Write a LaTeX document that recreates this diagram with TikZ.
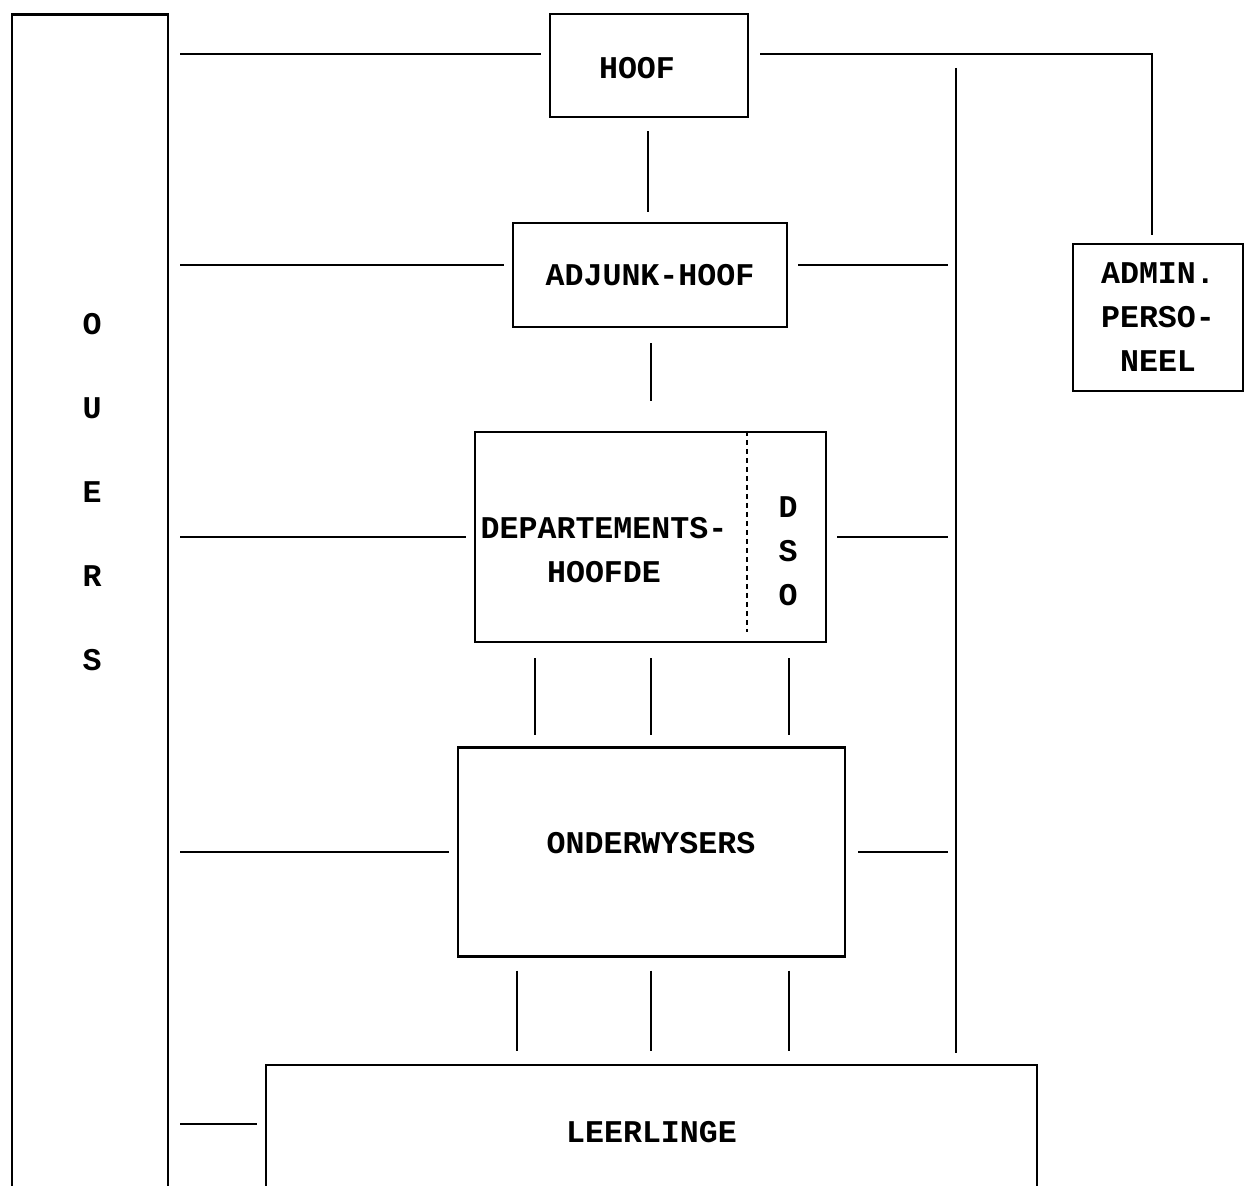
\documentclass[tikz,border=0pt]{standalone}
\usepackage{fontspec}
\setmonofont{Liberation Mono}
\usetikzlibrary{positioning}

\begin{document}
\begin{tikzpicture}[x=0.02cm,y=-0.02cm,font=\ttfamily\bfseries\fontsize{18}{25}\selectfont]
\tikzstyle{box}=[draw=black,line width=1.2pt,inner sep=0pt,align=center]
\tikzstyle{link}=[-,line width=1.2pt,shorten <=0.22cm,shorten >=0.16cm]
\tikzstyle{tall}=[align=center,font=\ttfamily\bfseries\fontsize{18}{47.8}\selectfont]

\useasboundingbox (0,0) rectangle (1245,1186);

% boxes
\node[box, line width=1.6pt, minimum width=3.12cm, minimum height=23.72cm] (ouers) at (90,607) {};
\node[box, minimum width=3.96cm, minimum height=2.06cm] (hoof) at (649,65.5) {};
\node[box, minimum width=5.48cm, minimum height=2.08cm] (adj) at (650,275) {ADJUNK-HOOF};
\node[box, minimum width=3.40cm, minimum height=2.94cm] (admin) at (1158,317.5) {ADMIN.\\PERSO-\\NEEL};
\node[box, minimum width=7.02cm, minimum height=4.20cm] (dept) at (650.5,537) {};
\node[box, minimum width=7.74cm, minimum height=4.18cm] (onder) at (651.5,852) {};
\node[box, minimum width=15.42cm, minimum height=2.70cm] (leerl) at (651.5,1132.5) {LEERLINGE};

% texts
\node (hooftxt) at (637,68) {HOOF};
\node[tall] (ouerstxt) at (92,492) {O\\U\\E\\R\\S};
\node[align=center] (depttxt) at (604,550) {DEPARTEMENTS-\\HOOFDE};
\node[align=center] (dso) at (788,551) {D\\S\\O};
\node (ondertxt) at (651,843) {ONDERWYSERS};

% dso divider
\coordinate (dsosep) at (747,632);
\draw[line width=1.6pt, dash pattern=on 0.1cm off 0.08cm] (dsosep |- dept.north) -- (dsosep);

% right hand bar
\coordinate (rtop) at (956,68);
\coordinate (rbot) at (956,1053);
\draw[line width=1.2pt] (rtop) -- (rbot);

% top row
\coordinate (hoofline) at (0,54);
\draw[link] (ouers.east |- hoofline) -- (hoof.west |- hoofline);
\draw[link] (hoof.east |- hoofline) -| ([xshift=-0.12cm]admin.north);

% left links
\draw[link] ([yshift=0.2cm]ouers.east |- adj.west) -- ([yshift=0.2cm]adj.west);
\draw[link] (ouers.east |- dept.west) -- (dept.west);
\draw[link] (ouers.east |- onder.west) -- (onder.west);
\draw[link] ([yshift=0.17cm]ouers.east |- leerl.west) -- ([yshift=0.17cm]leerl.west);

% right links
\draw[link, shorten <=0.2cm] ([yshift=0.2cm]adj.east) -- ([yshift=0.2cm]adj.east -| rtop);
\draw[link, shorten <=0.2cm] (dept.east) -- (dept.east -| rtop);
\draw[link, shorten <=0.24cm] (onder.east) -- (onder.east -| rtop);

% down the middle
\draw[link, shorten <=0.26cm, shorten >=0.2cm] (hoof.south -| 648,0) -- (adj.north -| 648,0);
\draw[link, shorten <=0.3cm, shorten >=0.6cm] (adj.south -| 651,0) -- (dept.north -| 651,0);
\foreach \x in {535,651,789}
  \draw[link, shorten <=0.3cm, shorten >=0.22cm] (dept.south -| \x,0) -- (onder.north -| \x,0);
\foreach \x in {517,651,789}
  \draw[link, shorten <=0.26cm, shorten >=0.26cm] (onder.south -| \x,0) -- (leerl.north -| \x,0);
\end{tikzpicture}
\end{document}
